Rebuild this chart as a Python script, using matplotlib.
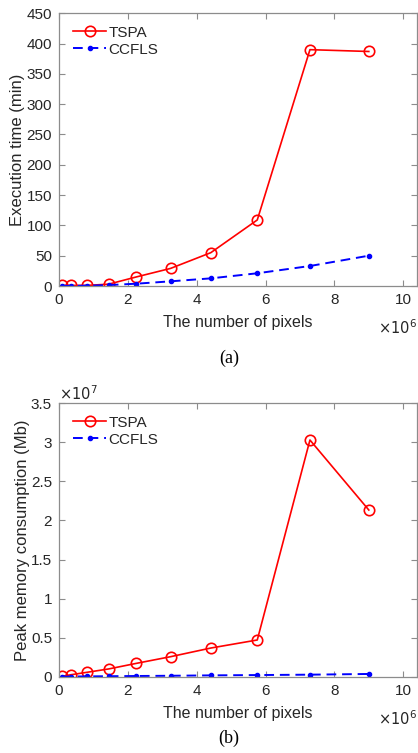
import matplotlib.pyplot as plt
from matplotlib.ticker import FuncFormatter

plt.rcParams['font.family'] = ['Liberation Sans', 'DejaVu Sans']

# image sizes (number of pixels)
pixels = [0.09e6, 0.36e6, 0.81e6, 1.44e6, 2.25e6, 3.24e6, 4.41e6, 5.76e6, 7.29e6, 9.0e6]

# execution time (min)
time_tspa = [1, 1, 1, 3, 15, 29, 55, 109, 390, 387]
time_ccfls = [0.3, 0.3, 0.5, 1.5, 3.8, 7.7, 12.6, 21, 33, 50]

# peak memory consumption (Mb)
mem_tspa = [0.005e7, 0.026e7, 0.056e7, 0.099e7, 0.171e7, 0.256e7, 0.367e7, 0.47e7, 3.03e7, 2.134e7]
mem_ccfls = [0.0005e7, 0.002e7, 0.004e7, 0.006e7, 0.009e7, 0.012e7, 0.017e7, 0.021e7, 0.026e7, 0.035e7]

text_col = '#262626'
axis_col = '#8c8c8c'

fig = plt.figure(figsize=(4.18, 7.53), dpi=100)
ax1 = fig.add_axes([59/418, 1-286/753, 358/418, 272.7/753])
ax2 = fig.add_axes([59/418, 1-676.7/753, 358/418, 273.4/753])


def style(ax):
  for s in ax.spines.values():
    s.set_color(axis_col)
    s.set_linewidth(0.9)
  ax.tick_params(direction='in', top=True, right=True, length=4, width=0.8,
                 colors=axis_col, labelcolor=text_col, labelsize=11, pad=5)
  ax.set_xlim(0, 10.4e6)
  ax.set_xticks([0, 2e6, 4e6, 6e6, 8e6, 10e6])
  ax.xaxis.set_major_formatter(FuncFormatter(lambda v, p: '%g' % (v / 1e6)))
  ax.set_xlabel('The number of pixels', fontsize=11.5, color=text_col, labelpad=6)
  ax.text(1.0, -0.12, r'$\times 10^6$', transform=ax.transAxes, ha='right', va='top',
          fontsize=10.5, color=text_col, math_fontfamily='dejavusans')


def draw(ax, a, b):
  ax.plot(pixels, a, '-o', color='red', lw=1.2, ms=7.5, mfc='none', mew=1.2, label='TSPA')
  ax.plot(pixels, b, '--.', color='blue', lw=1.4, ms=6, dashes=(5, 3), label='CCFLS')
  leg = ax.legend(loc='upper left', frameon=False, fontsize=11, handlelength=2.2,
                  handletextpad=0.15, borderaxespad=0.5, labelspacing=0.2,
                  bbox_to_anchor=(0.0, 1.005))
  for t in leg.get_texts():
    t.set_color(text_col)


# (a) execution time
draw(ax1, time_tspa, time_ccfls)
style(ax1)
ax1.set_ylim(0, 450)
ax1.set_yticks(range(0, 451, 50))
ax1.set_ylabel('Execution time (min)', fontsize=12, color=text_col, labelpad=1)

# (b) peak memory
draw(ax2, mem_tspa, mem_ccfls)
style(ax2)
ax2.set_ylim(0, 3.5e7)
ax2.set_yticks([i * 0.5e7 for i in range(8)])
ax2.yaxis.set_major_formatter(FuncFormatter(lambda v, p: '%g' % (v / 1e7)))
ax2.set_ylabel('Peak memory consumption (Mb)', fontsize=12, color=text_col, labelpad=1)
ax2.text(0.0, 1.0, r'$\times 10^7$', transform=ax2.transAxes, ha='left', va='bottom',
         fontsize=10.5, color=text_col, math_fontfamily='dejavusans')

fig.text(229/418, 1-358/753, '(a)', ha='center', va='center', fontsize=13,
         family='Liberation Serif', color='black')
fig.text(229/418, 1-738/753, '(b)', ha='center', va='center', fontsize=13,
         family='Liberation Serif', color='black')

fig.savefig('out.png', dpi=100)
